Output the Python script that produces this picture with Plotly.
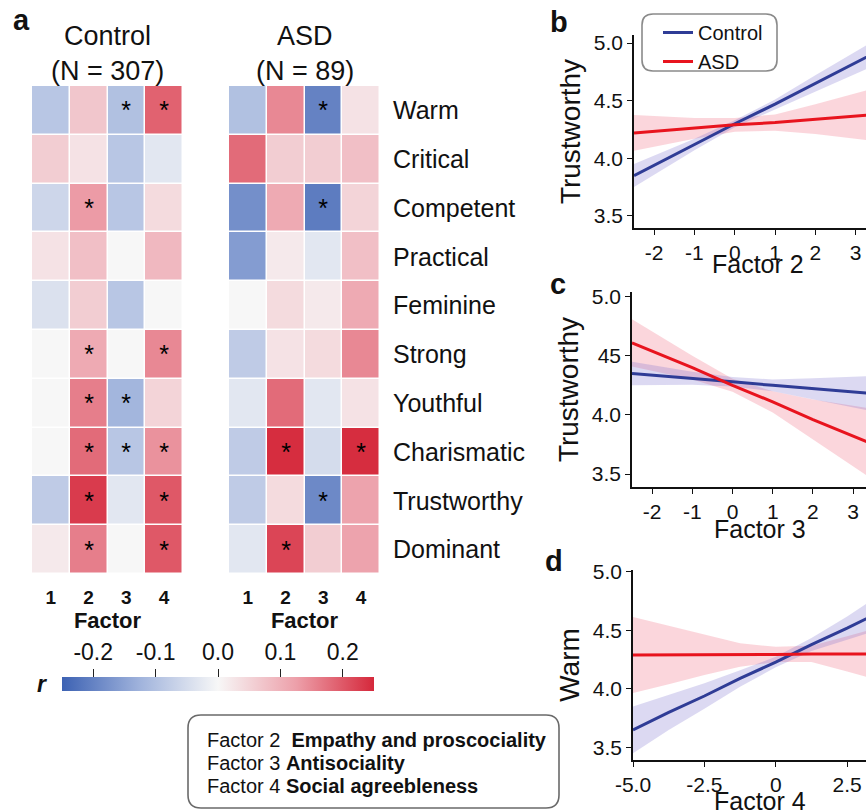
import plotly.graph_objects as go

W, H = 866, 811
FONT = "Liberation Sans, Arial, sans-serif"

# ---------------- heatmap data ----------------
traits = ["Warm", "Critical", "Competent", "Practical", "Feminine",
          "Strong", "Youthful", "Charismatic", "Trustworthy", "Dominant"]
factors = ["1", "2", "3", "4"]

r_control = [
    [-0.09, 0.07, -0.10, 0.19],
    [0.06, 0.03, -0.09, -0.03],
    [-0.06, 0.13, -0.09, 0.04],
    [0.03, 0.08, 0.00, 0.09],
    [-0.04, 0.06, -0.09, 0.00],
    [0.00, 0.11, 0.00, 0.15],
    [0.00, 0.16, -0.12, 0.05],
    [0.00, 0.18, -0.09, 0.14],
    [-0.08, 0.23, -0.03, 0.20],
    [0.02, 0.16, 0.00, 0.20],
]
sig_control = [
    ["", "", "*", "*"],
    ["", "", "", ""],
    ["", "*", "", ""],
    ["", "", "", ""],
    ["", "", "", ""],
    ["", "*", "", "*"],
    ["", "*", "*", ""],
    ["", "*", "*", "*"],
    ["", "*", "", "*"],
    ["", "*", "", "*"],
]
r_asd = [
    [-0.10, 0.15, -0.20, 0.03],
    [0.18, 0.06, 0.06, 0.08],
    [-0.18, 0.11, -0.21, 0.05],
    [-0.16, 0.02, -0.03, 0.08],
    [0.00, 0.04, 0.02, 0.11],
    [-0.08, 0.03, 0.04, 0.15],
    [-0.03, 0.18, -0.03, 0.03],
    [-0.08, 0.245, -0.05, 0.245],
    [-0.08, 0.04, -0.19, 0.12],
    [-0.03, 0.22, 0.06, 0.12],
]
sig_asd = [
    ["", "", "*", ""],
    ["", "", "", ""],
    ["", "", "*", ""],
    ["", "", "", ""],
    ["", "", "", ""],
    ["", "", "", ""],
    ["", "", "", ""],
    ["", "*", "", "*"],
    ["", "", "*", ""],
    ["", "*", "", ""],
]
cbar_ticks = [-0.2, -0.1, 0.0, 0.1, 0.2]
cbar_ticktext = ["-0.2", "-0.1", "0.0", "0.1", "0.2"]

# ---------------- regression panel data ----------------
b_x = [-2.5, -1, 0, 1, 2, 3.5]
b_ctrl = [3.85, 4.12, 4.30, 4.47, 4.65, 4.92]
b_ctrl_lo = [3.75, 4.07, 4.27, 4.43, 4.58, 4.81]
b_ctrl_hi = [3.95, 4.17, 4.33, 4.51, 4.72, 5.03]
b_asd = [4.22, 4.26, 4.29, 4.31, 4.34, 4.38]
b_asd_lo = [4.065, 4.17, 4.23, 4.24, 4.21, 4.15]
b_asd_hi = [4.375, 4.35, 4.35, 4.38, 4.47, 4.61]

c_x = [-2.5, -1, 0, 1, 2, 3.5]
c_ctrl = [4.35, 4.31, 4.28, 4.25, 4.22, 4.18]
c_ctrl_lo = [4.25, 4.255, 4.24, 4.20, 4.13, 4.03]
c_ctrl_hi = [4.45, 4.365, 4.32, 4.30, 4.31, 4.33]
c_asd = [4.61, 4.40, 4.25, 4.11, 3.96, 3.75]
c_asd_lo = [4.41, 4.30, 4.195, 4.02, 3.79, 3.45]
c_asd_hi = [4.81, 4.50, 4.305, 4.20, 4.13, 4.05]

d_x = [-5, -3.75, -2.5, -1.25, 0, 1.25, 2.5, 3.5]
d_ctrl = [3.65, 3.80, 3.94, 4.09, 4.23, 4.38, 4.52, 4.64]
d_ctrl_lo = [3.45, 3.65, 3.83, 4.02, 4.185, 4.325, 4.42, 4.50]
d_ctrl_hi = [3.85, 3.95, 4.05, 4.16, 4.275, 4.435, 4.62, 4.78]
d_asd = [4.29, 4.29, 4.29, 4.29, 4.295, 4.30, 4.30, 4.30]
d_asd_lo = [3.965, 4.04, 4.12, 4.19, 4.23, 4.23, 4.15, 4.08]
d_asd_hi = [4.615, 4.54, 4.46, 4.39, 4.36, 4.37, 4.45, 4.52]

bc_xticks = [-2, -1, 0, 1, 2, 3]
bc_xticktext = ["-2", "-1", "0", "1", "2", "3"]
d_xticks = [-5, -2.5, 0, 2.5]
d_xticktext = ["-5.0", "-2.5", "0", "2.5"]
y_ticks = [3.5, 4.0, 4.5, 5.0]
y_ticktext = ["3.5", "4.0", "4.5", "5.0"]
c_y_ticktext = ["3.5", "4.0", "45", "5.0"]

factor_names = [("Factor 2\u00a0", "Empathy and proscociality"),
                ("Factor 3", "Antisociality"),
                ("Factor 4", "Social agreebleness")]

# ---------------- styles ----------------
BLUE = "#2f3c96"
RED = "#e8141e"
BLUE_FILL = "rgba(120,110,205,0.26)"
RED_FILL = "rgba(235,60,90,0.21)"
colorscale = [[0.0, "#3d62b3"], [0.25, "#a0b3dc"], [0.5, "#f7f7f7"],
              [0.75, "#eda0aa"], [1.0, "#d5283b"]]


def px(x):
    return x / W


def py(y):
    return 1 - y / H


fig = go.Figure()

# heatmaps
for z, sig, xa, ya in [(r_control, sig_control, "x", "y"), (r_asd, sig_asd, "x2", "y2")]:
    fig.add_trace(go.Heatmap(
        z=z, x=factors, y=traits, text=sig, texttemplate="%{text}",
        textfont=dict(size=25, color="black", family=FONT),
        coloraxis="coloraxis", xgap=1.5, ygap=1.5, xaxis=xa, yaxis=ya,
        hoverinfo="skip"))

# dummy trace for the colorbar tick axis
fig.add_trace(go.Scatter(x=[], y=[], xaxis="x6", yaxis="y6", showlegend=False))


def add_panel(xs, ctrl, clo, chi, asd, alo, ahi, xa, ya, legend):
    fig.add_trace(go.Scatter(x=xs + xs[::-1], y=ahi + alo[::-1], fill="toself",
                             fillcolor=RED_FILL, line=dict(width=0), mode="lines",
                             showlegend=False, hoverinfo="skip", xaxis=xa, yaxis=ya))
    fig.add_trace(go.Scatter(x=xs + xs[::-1], y=chi + clo[::-1], fill="toself",
                             fillcolor=BLUE_FILL, line=dict(width=0), mode="lines",
                             showlegend=False, hoverinfo="skip", xaxis=xa, yaxis=ya))
    fig.add_trace(go.Scatter(x=xs, y=ctrl, mode="lines", name="Control",
                             line=dict(color=BLUE, width=3), showlegend=legend,
                             xaxis=xa, yaxis=ya))
    fig.add_trace(go.Scatter(x=xs, y=asd, mode="lines", name="ASD",
                             line=dict(color=RED, width=3), showlegend=legend,
                             xaxis=xa, yaxis=ya))


add_panel(b_x, b_ctrl, b_ctrl_lo, b_ctrl_hi, b_asd, b_asd_lo, b_asd_hi, "x3", "y3", True)
add_panel(c_x, c_ctrl, c_ctrl_lo, c_ctrl_hi, c_asd, c_asd_lo, c_asd_hi, "x4", "y4", False)
add_panel(d_x, d_ctrl, d_ctrl_lo, d_ctrl_hi, d_asd, d_asd_lo, d_asd_hi, "x5", "y5", False)

# ---------------- axes ----------------
hm_x = dict(tickfont=dict(size=19, family=FONT, color="#111", weight="bold"),
            ticks="outside", ticklen=6, tickcolor="rgba(0,0,0,0)",
            showgrid=False, zeroline=False, showline=False,
            title=dict(text="<b>Factor</b>", font=dict(size=22, family=FONT, color="#111"),
                       standoff=2))
fig.update_layout(
    xaxis=dict(domain=[px(32), px(183)], anchor="y", **hm_x),
    yaxis=dict(domain=[py(574), py(86)], anchor="x", autorange="reversed",
               showticklabels=False, showgrid=False, zeroline=False),
    xaxis2=dict(domain=[px(229), px(380)], anchor="y2", **hm_x),
    yaxis2=dict(domain=[py(574), py(86)], anchor="x2", autorange="reversed",
                side="right", showgrid=False, zeroline=False,
                ticks="outside", ticklen=7, tickcolor="rgba(0,0,0,0)",
                tickfont=dict(size=25, family=FONT, color="#111")),
    xaxis6=dict(domain=[px(62), px(374)], anchor="free", position=py(677), side="top",
                range=[-0.25, 0.25], tickvals=cbar_ticks, ticktext=cbar_ticktext,
                ticks="outside", ticklen=8, tickwidth=1.2, tickcolor="#222",
                showline=False, showgrid=False, zeroline=False,
                tickfont=dict(size=23, family=FONT, color="#111")),
    yaxis6=dict(domain=[0, 0.01], anchor="x6", visible=False),
)

line_ax = dict(showline=True, linecolor="#111", linewidth=1.5, ticks="outside",
               ticklen=5, tickwidth=1.2, tickcolor="#111", showgrid=False,
               zeroline=False, tickfont=dict(size=21, family=FONT, color="#111"))
yt = dict(font=dict(size=28, family=FONT, color="#111"), standoff=5)

fig.update_layout(
    xaxis3=dict(domain=[px(634), 1], anchor="y3", range=[-2.5, 3.257],
                tickvals=bc_xticks, ticktext=bc_xticktext, **line_ax),
    yaxis3=dict(domain=[py(228), py(35)], anchor="x3", range=[3.395, 5.07],
                tickvals=y_ticks, ticktext=y_ticktext,
                title=dict(text="Trustworthy", **yt), **line_ax),
    xaxis4=dict(domain=[px(632), 1], anchor="y4", range=[-2.5, 3.32],
                tickvals=bc_xticks, ticktext=bc_xticktext, **line_ax),
    yaxis4=dict(domain=[py(487), py(292)], anchor="x4", range=[3.39, 5.04],
                tickvals=y_ticks, ticktext=c_y_ticktext,
                title=dict(text="Trustworthy", **yt), **line_ax),
    xaxis5=dict(domain=[px(633), 1], anchor="y5", range=[-5.0, 3.16],
                tickvals=d_xticks, ticktext=d_xticktext, **line_ax),
    yaxis5=dict(domain=[py(760), py(570)], anchor="x5", range=[3.393, 5.017],
                tickvals=y_ticks, ticktext=y_ticktext,
                title=dict(text="Warm", **yt), **line_ax),
)

fig.update_layout(
    coloraxis=dict(
        colorscale=colorscale, cmin=-0.25, cmax=0.25,
        colorbar=dict(orientation="h", x=px((62 + 374) / 2), xanchor="center",
                      len=312 / W, lenmode="fraction", y=py(677), yanchor="top",
                      thickness=14, thicknessmode="pixels", outlinewidth=0,
                      showticklabels=False, ticks="", xpad=0, ypad=0)),
)


def rounded(x0, y0, x1, y1, r):
    ry = r
    return (f"M {px(x0 + r)},{py(y0)} L {px(x1 - r)},{py(y0)} "
            f"Q {px(x1)},{py(y0)} {px(x1)},{py(y0 + ry)} "
            f"L {px(x1)},{py(y1 - ry)} Q {px(x1)},{py(y1)} {px(x1 - r)},{py(y1)} "
            f"L {px(x0 + r)},{py(y1)} Q {px(x0)},{py(y1)} {px(x0)},{py(y1 - ry)} "
            f"L {px(x0)},{py(y0 + ry)} Q {px(x0)},{py(y0)} {px(x0 + r)},{py(y0)} Z")


shapes = [
    dict(type="path", xref="paper", yref="paper", path=rounded(642, 14, 777, 71, 11),
         line=dict(color="#8a8a8a", width=1.6), fillcolor="rgba(255,255,255,0)"),
    dict(type="path", xref="paper", yref="paper", path=rounded(188, 715, 559, 808, 13),
         line=dict(color="#6a6a6a", width=1.6), fillcolor="rgba(255,255,255,0)"),
]

ann_font = dict(family=FONT, color="#111")
annotations = [
    dict(text="Control", x=px(107.5), y=py(36), font=dict(size=27, **ann_font)),
    dict(text="(N = 307)", x=px(107.5), y=py(71), font=dict(size=27, **ann_font)),
    dict(text="ASD", x=px(304.5), y=py(36), font=dict(size=27, **ann_font)),
    dict(text="(N = 89)", x=px(304.5), y=py(71), font=dict(size=27, **ann_font)),
    dict(text="<b><i>r</i></b>", x=px(42), y=py(684), font=dict(size=23, **ann_font)),
    dict(text="<b>a</b>", x=px(21), y=py(20), font=dict(size=29, **ann_font)),
    dict(text="<b>b</b>", x=px(559), y=py(22), font=dict(size=29, **ann_font)),
    dict(text="<b>c</b>", x=px(558), y=py(284), font=dict(size=29, **ann_font)),
    dict(text="<b>d</b>", x=px(554), y=py(561), font=dict(size=29, **ann_font)),
    dict(text="Factor 2", x=px(758), y=py(264), font=dict(size=25, **ann_font)),
    dict(text="Factor 3", x=px(760), y=py(529), font=dict(size=25, **ann_font)),
    dict(text="Factor 4", x=px(760), y=py(801), font=dict(size=25, **ann_font)),
]
for i, (lab, name) in enumerate(factor_names):
    annotations.append(dict(text=f"{lab} <b>{name}</b>", x=px(205), y=py(740 + 23 * i),
                            xanchor="left", align="left", font=dict(size=20, **ann_font)))
for a in annotations:
    a.setdefault("xanchor", "center")
    a.update(xref="paper", yref="paper", yanchor="middle", showarrow=False)

fig.update_layout(
    width=W, height=H, margin=dict(l=0, r=0, t=0, b=0, autoexpand=False),
    paper_bgcolor="white", plot_bgcolor="white",
    font=dict(family=FONT, color="#111"),
    shapes=shapes, annotations=annotations,
    legend=dict(x=px(658), y=py(13), xanchor="left", yanchor="top",
                bgcolor="rgba(0,0,0,0)", borderwidth=0,
                font=dict(size=20, family=FONT, color="#111"),
                itemwidth=30, tracegroupgap=0),
)

fig.write_html("out.html", config={"displayModeBar": False},
               post_script="document.body.style.margin='0';document.body.style.padding='0';")
